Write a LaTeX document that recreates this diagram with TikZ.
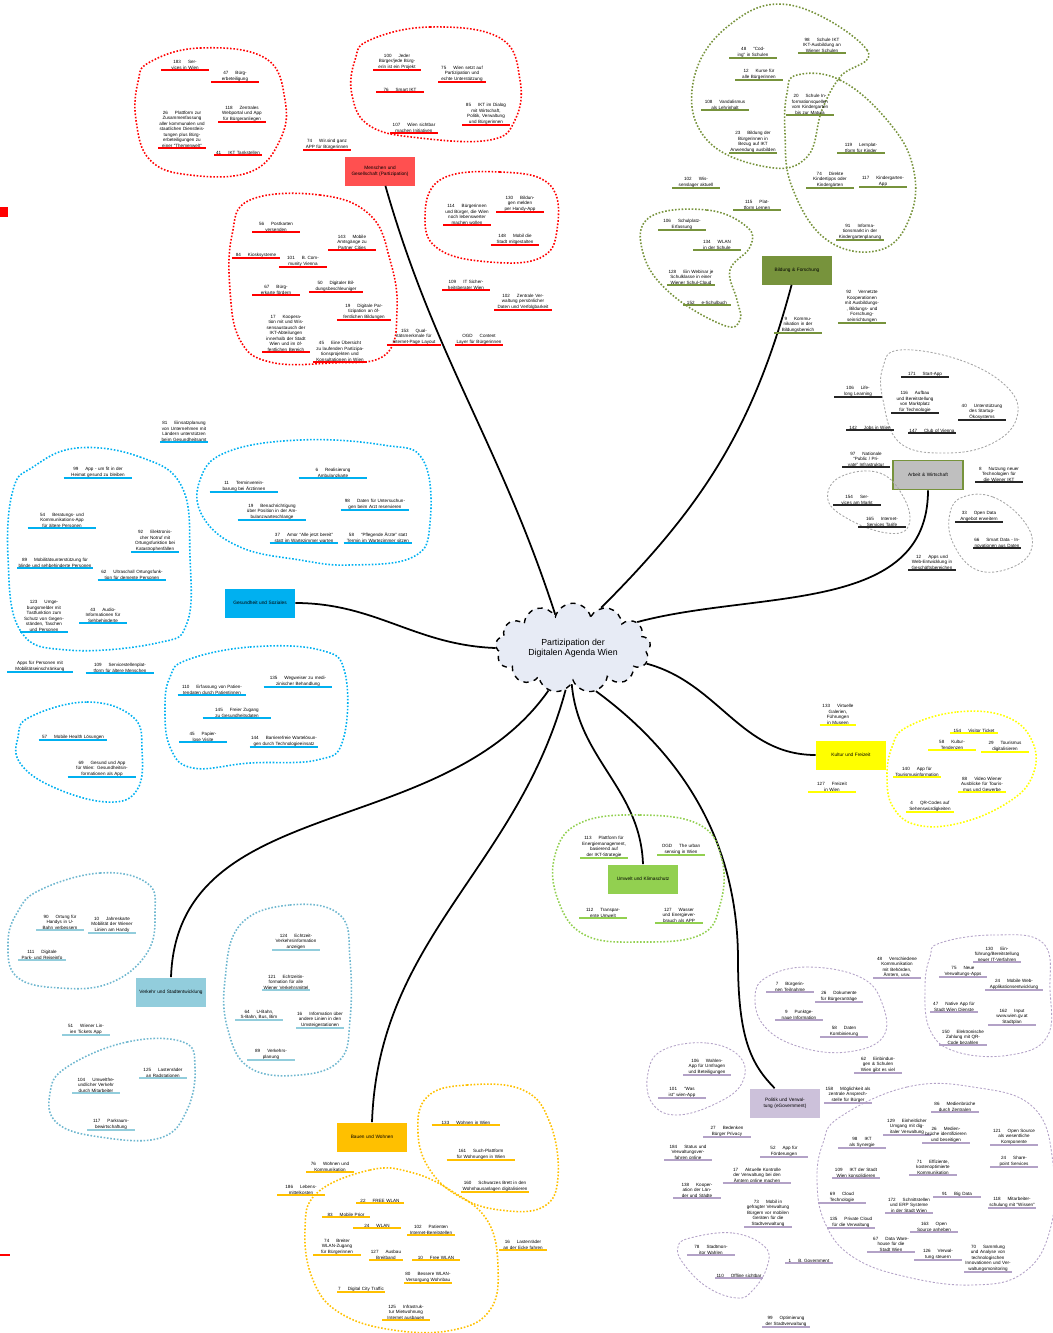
\documentclass[tikz,border=0pt]{standalone}
\usepackage{fontspec}
\setmainfont{Liberation Sans}
\usetikzlibrary{shapes.symbols}

\definecolor{mgred}{HTML}{FF0000}
\definecolor{mgbox}{HTML}{FF5050}
\definecolor{bfgreen}{HTML}{77933C}
\definecolor{awgray}{HTML}{BFBFBF}
\definecolor{awline}{HTML}{262626}
\definecolor{awblob}{HTML}{A6A6A6}
\definecolor{gscyan}{HTML}{00B0F0}
\definecolor{kfyellow}{HTML}{FFFF00}
\definecolor{ukgreen}{HTML}{92D050}
\definecolor{vsblue}{HTML}{92CDDC}
\definecolor{vsblob}{HTML}{6FB7CF}
\definecolor{pvlilac}{HTML}{CCC1DA}
\definecolor{pvline}{HTML}{B3A2C7}
\definecolor{bworange}{HTML}{FFC000}
\definecolor{cloudfill}{HTML}{E7EBF5}

\newcommand{\leaffont}{\fontsize{2.6}{3.1}\selectfont}
\newcommand{\topicfont}{\fontsize{2.7}{3.2}\selectfont}
\newcommand{\nr}[1]{#1\hspace{4pt}}

\tikzset{
  leaf/.style={font=\leaffont, align=center, inner sep=0.3pt, text width=26pt, anchor=south},
  ul/.style={append after command={(\tikzlastnode.south west) edge[draw=#1, line width=1.1pt] (\tikzlastnode.south east)}},
  mgl/.style={leaf, ul=mgred},
  bfl/.style={leaf, ul=bfgreen},
  awl/.style={leaf, ul=awline},
  gsl/.style={leaf, ul=gscyan},
  kfl/.style={leaf, ul=kfyellow},
  ukl/.style={leaf, ul=ukgreen},
  vsl/.style={leaf, ul=vsblue},
  pvl/.style={leaf, ul=pvline},
  bwl/.style={leaf, ul=bworange},
  wide/.style={text width=38pt},
  blob/.style={draw=#1, densely dotted, line width=0.9pt},
  thinblob/.style={draw=#1, dash pattern=on 1.2pt off 1pt, line width=0.5pt},
  topic/.style={font=\topicfont, align=center, minimum width=1.4cm, minimum height=0.58cm, text width=1.3cm, inner sep=1pt},
  link/.style={line width=1pt, black},
}

\begin{document}
\begin{tikzpicture}[x=0.02cm, y=-0.02cm]
\useasboundingbox (0,0) rectangle (1053,1333);

% small marks at the left edge
\fill[mgred] (0,207) rectangle (8,217);
\draw[mgred, line width=0.6pt] (0,1255) -- (10,1255);

% centre
\node[cloud, cloud puffs=13, aspect=1.85, inner sep=0pt, draw, dashed, line width=0.8pt, fill=cloudfill, minimum width=3.1cm, minimum height=1.7cm, font=\fontsize{5}{6}\selectfont, align=center] (agenda) at (573,648) {Partizipation der\\Digitalen Agenda Wien};

% topics
\node[topic, fill=mgbox] (mg) at (380,171) {Menschen und Gesellschaft (Partizipation)};
\node[topic, fill=bfgreen] (bf) at (797,270) {Bildung \& Forschung};
\node[topic, fill=awgray, draw=bfgreen, line width=1pt] (aw) at (928,475) {Arbeit \& Wirtschaft};
\node[topic, fill=gscyan] (gs) at (260,603) {Gesundheit und Soziales};
\node[topic, fill=kfyellow] (kf) at (851,755) {Kultur und Freizeit};
\node[topic, fill=ukgreen] (uk) at (643,879) {Umwelt und Klimaschutz};
\node[topic, fill=vsblue] (vs) at (171,992) {Verkehr und Stadtentwicklung};
\node[topic, fill=pvlilac] (pv) at (785,1103) {Politik und Verwaltung (eGovernment)};
\node[topic, fill=bworange] (bw) at (372,1137) {Bauen und Wohnen};

% links
\draw[link] (mg.290) to[out=-74, in=108] (agenda.118);
\draw[link] (bf.250) to[out=-105, in=45] (agenda.55);
\draw[link] (aw.south) to[out=-90, in=15] (agenda.22);
\draw[link] (gs.east) to[out=0, in=178] (agenda.west);
\draw[link] (agenda.-12) to[out=-15, in=180] (kf.west);
\draw[link] (agenda.-92) to[out=-85, in=92] (uk.north);
\draw[link] (agenda.-62) .. controls (690,760) and (738,850) .. (738,960) .. controls (738,1040) and (752,1065) .. (pv.125);
\draw[link] (agenda.-120) to[out=-125, in=88] (vs.north);
\draw[link] (agenda.-100) to[out=-105, in=88] (bw.north);

% Menschen und Gesellschaft
\draw[blob=mgred] plot[smooth cycle, tension=0.7] coordinates {(150,62) (200,48) (265,58) (285,100) (280,140) (250,172) (190,175) (150,160) (136,120) (138,82)};
\draw[blob=mgred] plot[smooth cycle, tension=0.7] coordinates {(370,40) (430,27) (500,38) (520,80) (515,120) (490,140) (420,138) (370,126) (352,95) (355,60)};
\draw[blob=mgred] plot[smooth cycle, tension=0.7] coordinates {(250,200) (320,195) (370,215) (390,260) (397,310) (385,355) (330,363) (270,362) (240,340) (230,290) (232,235)};
\draw[blob=mgred] plot[smooth cycle, tension=0.7] coordinates {(440,180) (500,172) (550,185) (557,230) (540,258) (490,262) (440,250) (425,220)};
\node[mgl] (m1) at (185,70) {\nr{183}Services in Wien};
\node[mgl] (m2) at (235,82) {\nr{47}Bürgerbeteiligung};
\node[mgl] (m3) at (182,148) {\nr{26}Plattform zur Zusammenfassung aller kommunalen und staatlichen Dienstleistungen plus Bürgerbeteiligungen zu einer ``Themenwelt''};
\node[mgl] (m4) at (242,122) {\nr{118}Zentrales Webportal und App für Bürgeranliegen};
\node[mgl] (m5) at (238,155) {\nr{41}IKT Tankstellen};
\node[mgl] (m6) at (397,70) {\nr{100}Jeder Bürger/jede Bürgerin ist ein Projekt};
\node[mgl] (m7) at (400,92) {\nr{76}Smart IKT};
\node[mgl] (m8) at (414,133) {\nr{107}Wien sichtbar machen Initiativen};
\node[mgl] (m9) at (462,82) {\nr{75}Wien setzt auf Partizipation und echte Unterstützung};
\node[mgl] (m10) at (486,125) {\nr{85}IKT im Dialog mit Wirtschaft, Politik, Verwaltung und Bürgerinnen};
\node[mgl] (m11) at (327,150) {\nr{74}Wir.sind ganz APP für Bürgerinnen};
\node[mgl] (m12) at (276,232) {\nr{56}Postkarten versenden};
\node[mgl] (m13) at (256,258) {\nr{84}Kiosksysteme};
\node[mgl] (m14) at (352,250) {\nr{143}Mobile Amtsgänge zu Partner Cities};
\node[mgl] (m15) at (303,267) {\nr{101}B. Community Vienna};
\node[mgl] (m16) at (276,295) {\nr{67}Bürgerkarte fördern};
\node[mgl, text width=30pt] (m17) at (336,292) {\nr{50}Digitaler Bildungsbeschleuniger};
\node[mgl] (m18) at (286,352) {\nr{17}Kooperation mit und Wissensaustausch der IKT-Abteilungen innerhalb der Stadt Wien und im öffentlichen Bereich};
\node[mgl, text width=30pt] (m19) at (364,320) {\nr{19}Digitale Partizipation an öffentlichen Bildungen};
\node[mgl, text width=30pt] (m20) at (340,362) {\nr{45}Eine Übersicht zu laufenden Partizipationsprojekten und Konsultationen in Wien};
\node[mgl, text width=30pt] (m21) at (414,345) {\nr{153}Qualitätsmerkmale für Internet-Page Layout};
\node[mgl] (m22) at (479,345) {\nr{OGD}Content Layer für Bürgerinnen};
\node[mgl] (m23) at (466,290) {\nr{109}IT Sicherheitsberater Wien};
\node[mgl, text width=32pt] (m24) at (523,310) {\nr{102}Zentrale Verwaltung persönlicher Daten und Verfolgbarkeit};
\node[mgl] (m25) at (467,225) {\nr{114}Bürgerinnen und Bürger, die Wien noch lebenswerter machen wollen};
\node[mgl] (m26) at (520,212) {\nr{130}Bildungen melden per Handy-App};
\node[mgl] (m27) at (515,245) {\nr{148}Mobil die Stadt mitgestalten};

% Bildung & Forschung
\draw[blob=bfgreen] plot[smooth cycle, tension=0.7] coordinates {(790,5) (867,50) (840,77) (822,110) (807,157) (767,167) (707,140) (693,83) (727,27)};
\draw[blob=bfgreen] plot[smooth cycle, tension=0.7] coordinates {(797,75) (840,80) (887,120) (913,167) (910,217) (880,250) (827,240) (792,187) (785,133) (787,93)};
\draw[blob=bfgreen] plot[smooth cycle, tension=0.7] coordinates {(650,217) (707,210) (747,227) (750,247) (730,270) (737,300) (740,320) (723,325) (670,293) (643,253)};
\node[bfl] (b1) at (753,58) {\nr{48}``Coding'' in Schulen};
\node[bfl] (b2) at (822,53) {\nr{98}Schule IKT IKT-Ausbildung an Wiener Schulen};
\node[bfl] (b3) at (759,80) {\nr{12}Kurse für alle Bürgerinnen};
\node[bfl] (b4) at (725,110) {\nr{108}Vandalismus als Lehrinhalt};
\node[bfl] (b5) at (810,115) {\nr{20}Schule Informationsquellen vom Kindergarten bis zur Matura};
\node[bfl] (b6) at (753,153) {\nr{23}Bildung der Bürgerinnen in Bezug auf IKT Anwendung ausbilden};
\node[bfl] (b7) at (861,153) {\nr{119}Lernplattform für Kinder};
\node[bfl] (b8) at (696,188) {\nr{102}Wissenslager aktuell};
\node[bfl] (b9) at (757,210) {\nr{115}Plattform Lernen};
\node[bfl] (b10) at (830,188) {\nr{74}Direkte Kindertipps oder Kindergärten};
\node[bfl] (b11) at (883,187) {\nr{117}Kindergarten-App};
\node[bfl] (b12) at (860,240) {\nr{91}Informationsmarkt in der Kindergartenplanung};
\node[bfl] (b13) at (682,230) {\nr{106}Schulplatz-Erfassung};
\node[bfl] (b14) at (717,250) {\nr{134}WLAN in der Schule};
\node[bfl] (b15) at (691,285) {\nr{128}Ein Webinar je Schulklasse in einer Wiener Schul-Cloud};
\node[bfl] (b16) at (707,305) {\nr{152}e-Schulbuch};
\node[bfl] (b17) at (862,323) {\nr{92}Vernetzte Kooperationen mit Ausbildungs-, Bildungs- und Forschungseinrichtungen};
\node[bfl] (b18) at (798,333) {\nr{9}Kommunikation in der Bildungsbereich};

% Arbeit & Wirtschaft
\draw[thinblob=awblob] plot[smooth cycle, tension=0.7] coordinates {(900,350) (960,360) (1007,387) (1017,417) (993,443) (947,453) (900,443) (883,400) (883,367)};
\draw[thinblob=awblob] plot[smooth cycle, tension=0.7] coordinates {(840,477) (880,473) (905,500) (908,527) (887,533) (850,520) (828,500)};
\draw[thinblob=awblob] plot[smooth cycle, tension=0.7] coordinates {(963,497) (993,497) (1023,520) (1032,547) (1013,567) (977,570) (953,543) (950,513)};
\node[awl] (a1) at (925,377) {\nr{171}Start-App};
\node[awl] (a2) at (858,397) {\nr{106}Lifelong Learning};
\node[awl] (a3) at (915,413) {\nr{116}Aufbau und Bereitstellung von Marktplatz für Technologie};
\node[awl] (a4) at (982,420) {\nr{40}Unterstützung des Startup-Ökosystems};
\node[awl] (a5) at (870,430) {\nr{142}Jobs in Wien};
\node[awl] (a6) at (932,433) {\nr{147}Club of Vienna};
\node[awl] (a7) at (866,467) {\nr{97}Nationale ``Public / Private'' Infrastruktur};
\node[awl] (a8) at (999,482) {\nr{8}Nutzung neuer Technologien für die Wiener IKT};
\node[awl] (a9) at (857,505) {\nr{154}Services am Markt};
\node[awl] (a10) at (882,527) {\nr{165}Internet-Services Tarife};
\node[awl] (a11) at (979,522) {\nr{33}Open Data Angebot erweitern};
\node[awl] (a12) at (997,548) {\nr{66}Smart Data - Innovationen aus Daten};
\node[awl] (a13) at (932,570) {\nr{12}Apps und Web-Entwicklung in Geschäftsbereichen};

% Gesundheit und Soziales
\draw[blob=gscyan] plot[smooth cycle, tension=0.7] coordinates {(77,448) (140,457) (182,487) (190,557) (187,623) (157,643) (67,650) (20,630) (8,557) (13,490) (33,467)};
\draw[blob=gscyan] plot[smooth cycle, tension=0.7] coordinates {(227,452) (300,440) (383,445) (423,460) (430,523) (413,557) (350,565) (300,560) (240,547) (203,517) (200,480)};
\draw[blob=gscyan] plot[smooth cycle, tension=0.7] coordinates {(30,717) (87,702) (133,717) (142,750) (137,790) (107,802) (53,787) (20,763) (18,737)};
\draw[blob=gscyan] plot[smooth cycle, tension=0.7] coordinates {(187,660) (250,647) (320,650) (345,673) (343,740) (317,760) (250,763) (193,768) (170,747) (165,707) (170,677)};
\node[gsl] (g1) at (184,442) {\nr{81}Einsatzplanung von Unternehmen mit Ländern unterstützen beim Gesundheitsamt};
\node[gsl, wide] (g2) at (98,478) {\nr{99}App - um fit in der Heimat gesund zu bleiben};
\node[gsl, wide] (g3) at (333,478) {\nr{6}Realisierung Ambulanzkarte};
\node[gsl, wide] (g4) at (244,492) {\nr{11}Terminvereinbarung bei Ärztinnen};
\node[gsl, wide] (g5) at (62,528) {\nr{54}Beratungs- und Kommunikations-App für ältere Personen};
\node[gsl, wide] (g6) at (375,510) {\nr{98}Daten für Untersuchungen beim Arzt reservieren};
\node[gsl, wide] (g7) at (272,520) {\nr{19}Benachrichtigung über Position in der Ambulanzwarteschlange};
\node[gsl] (g8) at (155,552) {\nr{92}Elektronischer Notruf mit Ortungsfunktion bei Katastrophenfällen};
\node[gsl, wide] (g9) at (304,543) {\nr{37}Amor ``Alle jetzt bereit'' statt im Wartezimmer warten};
\node[gsl, wide] (g10) at (378,543) {\nr{58}``Pflegende Ärzte'' statt Termin im Wartezimmer sitzen};
\node[gsl, text width=42pt] (g11) at (55,568) {\nr{89}Mobilitätsunterstützung für blinde und sehbehinderte Personen};
\node[gsl, wide] (g12) at (132,580) {\nr{62}Ultraschall Ortungsfunktion für demente Personen};
\node[gsl] (g13) at (44,632) {\nr{123}Umgebungsmelder mit Tastfunktion zum Schutz von Gegenständen, Taschen und Personen};
\node[gsl] (g14) at (103,623) {\nr{43}Audio-Informationen für Sehbehinderte};
\node[gsl, text width=36pt] (g15) at (40,672) {Apps für Personen mit Mobilitätseinschränkung};
\node[gsl, wide] (g16) at (120,673) {\nr{109}Servicestellenplattform für ältere Menschen};
\node[gsl, wide] (g17) at (212,695) {\nr{110}Erfassung von Patientendaten durch Patientinnen};
\node[gsl, wide] (g18) at (298,687) {\nr{135}Wegweiser zu medizinischer Behandlung};
\node[gsl, wide] (g19) at (237,718) {\nr{145}Freier Zugang zu Gesundheitsdaten};
\node[gsl, wide] (g20) at (73,740) {\nr{57}Mobile Health Lösungen};
\node[gsl] (g21) at (203,742) {\nr{45}Papierlose Visite};
\node[gsl, wide] (g22) at (284,747) {\nr{144}Barrierefreie Wartelösungen durch Technologieeinsatz};
\node[gsl, wide] (g23) at (102,777) {\nr{69}Gesund und App für Wien: Gesundheitsinformationen als App};

% Kultur und Freizeit
\draw[blob=kfyellow] plot[smooth cycle, tension=0.7] coordinates {(907,727) (957,712) (1007,717) (1033,743) (1032,777) (1007,803) (960,823) (917,825) (893,807) (887,777) (892,747)};
\node[kfl, text width=20pt] (k1) at (838,725) {\nr{133}Virtuelle Galerien, Führungen in Museen};
\node[kfl] (k2) at (832,792) {\nr{127}Freizeit in Wien};
\node[kfl] (k3) at (974,733) {\nr{154}Visitor Ticket};
\node[kfl] (k4) at (952,750) {\nr{58}Kultur-Tendenzen};
\node[kfl] (k5) at (1005,752) {\nr{29}Tourismus digitalisieren};
\node[kfl] (k6) at (917,777) {\nr{140}App für Tourismusinformation};
\node[kfl] (k7) at (982,792) {\nr{88}Video Wiener Ausblicke für Tourismus und Gewerbe};
\node[kfl] (k8) at (930,812) {\nr{4}QR-Codes auf Sehenswürdigkeiten};

% Umwelt und Klimaschutz
\draw[blob=ukgreen] plot[smooth cycle, tension=0.7] coordinates {(580,823) (640,815) (700,825) (722,860) (720,905) (700,935) (640,942) (585,935) (558,900) (555,855)};
\node[ukl] (u1) at (604,858) {\nr{113}Plattform für Energiemanagement, basierend auf der IKT-Strategie};
\node[ukl] (u2) at (681,855) {\nr{OGD}The urban sensing in Wien};
\node[ukl] (u3) at (603,918) {\nr{112}Transparente Umwelt};
\node[ukl] (u4) at (679,923) {\nr{127}Wasser und Energieverbrauch als APP};

% Verkehr und Stadtentwicklung
\draw[blob=vsblob] plot[smooth cycle, tension=0.7] coordinates {(40,890) (100,873) (147,883) (155,913) (147,953) (110,983) (60,988) (17,977) (8,943) (17,913)};
\draw[blob=vsblob] plot[smooth cycle, tension=0.7] coordinates {(240,925) (290,905) (340,915) (350,960) (350,1020) (340,1060) (300,1075) (250,1068) (228,1030) (225,980)};
\draw[blob=vsblob] plot[smooth cycle, tension=0.7] coordinates {(67,1067) (127,1042) (183,1042) (195,1067) (187,1110) (160,1138) (100,1137) (57,1123) (50,1093)};
\node[vsl] (v1) at (60,930) {\nr{90}Ortung für Handys in U-Bahn verbessern};
\node[vsl] (v2) at (112,933) {\nr{10}Jahreskarte Mobilität der Wiener Linien am Handy};
\node[vsl] (v3) at (42,960) {\nr{111}Digitale Park- und Reiseinfo};
\node[vsl] (v4) at (86,1035) {\nr{51}Wiener Linien Tickets App};
\node[vsl] (v5) at (296,950) {\nr{124}Echtzeit-Verkehrsinformation anzeigen};
\node[vsl] (v6) at (286,990) {\nr{121}Echtzeitinformation für alle Wiener Verkehrsmittel};
\node[vsl] (v7) at (259,1020) {\nr{64}U-Bahn, S-Bahn, Bus, Bim};
\node[vsl] (v8) at (320,1028) {\nr{16}Information über andere Linien in den Umsteigestationen};
\node[vsl] (v9) at (271,1060) {\nr{89}Verkehrsplanung};
\node[vsl] (v10) at (96,1093) {\nr{104}Umweltfreundlicher Verkehr durch Mitarbeiter};
\node[vsl] (v11) at (163,1078) {\nr{125}Lastenräder an Radstationen};
\node[vsl] (v12) at (111,1130) {\nr{117}Parkraumbewirtschaftung};

% Politik und Verwaltung
\draw[thinblob=pvline] plot[smooth cycle, tension=0.7] coordinates {(767,977) (807,967) (860,977) (882,1003) (883,1037) (847,1052) (800,1047) (765,1027) (755,997)};
\draw[thinblob=pvline] plot[smooth cycle, tension=0.7] coordinates {(940,943) (993,935) (1043,943) (1050,990) (1047,1037) (1010,1055) (957,1052) (930,1030) (925,987) (930,957)};
\draw[thinblob=pvline] plot[smooth cycle, tension=0.7] coordinates {(663,1050) (707,1043) (740,1057) (742,1083) (717,1103) (677,1115) (652,1103) (648,1073)};
\draw[thinblob=pvline] plot[smooth cycle, tension=0.7] coordinates {(840,1117) (907,1087) (973,1087) (1033,1107) (1053,1163) (1050,1230) (1023,1273) (973,1285) (907,1277) (853,1257) (825,1223) (817,1180) (823,1143)};
\draw[thinblob=pvline] plot[smooth cycle, tension=0.7] coordinates {(690,1238) (733,1233) (765,1247) (767,1267) (753,1290) (737,1298) (707,1287) (683,1263) (678,1247)};
\node[pvl] (p1) at (897,978) {\nr{48}Verschiedene Kommunikation mit Behörden, Ämtern, usw.};
\node[pvl] (p2) at (997,962) {\nr{130}Einführung/Bereitstellung neuer IT-Verfahren};
\node[pvl] (p3) at (963,977) {\nr{75}Neue Verwaltungs-Apps};
\node[pvl, text width=32pt] (p4) at (1014,990) {\nr{24}Mobile Web-Applikationsentwicklung};
\node[pvl] (p5) at (954,1012) {\nr{47}Native App für Stadt Wien Dienste};
\node[pvl] (p6) at (1012,1025) {\nr{162}Input www.wien.gv.at Stadtplan};
\node[pvl] (p7) at (963,1045) {\nr{150}Elektronische Zahlung mit QR-Code bezahlen};
\node[pvl] (p8) at (790,992) {\nr{7}Bürgerinnen Teilnahme};
\node[pvl] (p9) at (839,1002) {\nr{26}Dokumente für Bürgeranträge};
\node[pvl] (p10) at (799,1020) {\nr{9}Punktgenaue Information};
\node[pvl] (p11) at (844,1037) {\nr{58}Daten Kombinierung};
\node[pvl] (p12) at (878,1073) {\nr{62}Einbindungen \& Schulen Wien gibt es viel};
\node[pvl] (p13) at (707,1075) {\nr{106}Wahlen-App für Umfragen und Beteiligungen};
\node[pvl] (p14) at (682,1098) {\nr{101}``Was ist'' wien-App};
\node[pvl] (p15) at (848,1103) {\nr{158}Möglichkeit als zentrale Ansprechstelle für Bürger};
\node[pvl] (p16) at (727,1137) {\nr{27}Bedenken Bürger Privacy};
\node[pvl] (p17) at (688,1160) {\nr{184}Status und Verwaltungsverfahren online};
\node[pvl] (p18) at (784,1157) {\nr{52}App für Förderungen};
\node[pvl, wide] (p19) at (757,1183) {\nr{17}Aktuelle Kontrolle der Verwaltung bei den Ämtern online machen};
\node[pvl] (p20) at (697,1198) {\nr{138}Kooperation der Länder und Städte};
\node[pvl] (p21) at (768,1227) {\nr{73}Mobil in gefragter Verwaltung Bürgern vor mobilen Geräten für die Stadtverwaltung};
\node[pvl] (p22) at (809,1263) {\nr{1}B. Government};
\node[pvl] (p23) at (786,1327) {\nr{99}Optimierung der Stadtverwaltung};
\node[pvl] (p24) at (711,1255) {\nr{78}Stadtmonitor Wahlen};
\node[pvl] (p25) at (739,1278) {\nr{110}Offline sichtbar};
\node[pvl] (p26) at (955,1112) {\nr{86}Medienbrüche durch Zentralen};
\node[pvl] (p27) at (907,1135) {\nr{129}Einheitlicher Umgang mit digitaler Verwaltung};
\node[pvl] (p28) at (946,1143) {\nr{26}Medienbrüche identifizieren und beseitigen};
\node[pvl] (p29) at (1014,1145) {\nr{121}Open Source als wesentliche Komponente};
\node[pvl] (p30) at (862,1148) {\nr{98}IKT als Synergie};
\node[pvl] (p31) at (933,1175) {\nr{71}Effiziente, kostenoptimierte Kommunikation};
\node[pvl] (p32) at (1014,1167) {\nr{24}Sharepoint Services};
\node[pvl] (p33) at (856,1178) {\nr{109}IKT der Stadt Wien konsolidieren};
\node[pvl] (p34) at (909,1213) {\nr{172}Schnittstellen und ERP Systeme in der Stadt Wien};
\node[pvl] (p35) at (957,1197) {\nr{91}Big Data};
\node[pvl] (p36) at (842,1203) {\nr{69}Cloud Technologie};
\node[pvl] (p37) at (1012,1208) {\nr{118}Mitarbeiterschulung mit ``Wissen''};
\node[pvl] (p38) at (851,1228) {\nr{135}Private Cloud für die Verwaltung};
\node[pvl] (p39) at (934,1232) {\nr{163}Open Source anheben};
\node[pvl] (p40) at (891,1252) {\nr{67}Data Warehouse für die Stadt Wien};
\node[pvl] (p41) at (938,1260) {\nr{126}Verwaltung steuern};
\node[pvl] (p42) at (988,1272) {\nr{70}Sammlung und Analyse von technologischen Innovationen und Verwaltungsmonitoring};

% Bauen und Wohnen
\draw[blob=bworange] plot[smooth cycle, tension=0.7] coordinates {(427,1097) (467,1085) (523,1090) (550,1123) (558,1177) (543,1207) (500,1210) (460,1197) (430,1170) (418,1133)};
\draw[blob=bworange] plot[smooth cycle, tension=0.7] coordinates {(317,1193) (370,1170) (410,1172) (450,1190) (487,1220) (498,1267) (490,1310) (453,1330) (393,1330) (340,1313) (313,1280) (305,1230)};
\node[bwl, wide] (w1) at (466,1125) {\nr{133}Wohnen in Wien};
\node[bwl, wide] (w2) at (481,1160) {\nr{161}Such-Plattform für Wohnungen in Wien};
\node[bwl, wide] (w3) at (495,1192) {\nr{160}Schwarzes Brett in den Wohnhausanlagen digitalisieren};
\node[bwl] (w4) at (330,1172) {\nr{76}Wohnen und Kommunikation};
\node[bwl] (w5) at (301,1195) {\nr{186}Lebensmittelkosten};
\node[bwl] (w6) at (380,1203) {\nr{22}FREE WLAN};
\node[bwl] (w7) at (346,1217) {\nr{83}Mobile Prior};
\node[bwl] (w8) at (377,1228) {\nr{24}WLAN};
\node[bwl] (w9) at (431,1235) {\nr{102}Patienten Internet-Bereitstellen};
\node[bwl] (w10) at (523,1250) {\nr{16}Lastenräder an der Ecke fahren};
\node[bwl] (w11) at (337,1255) {\nr{74}Breiter WLAN-Zugang für Bürgerinnen};
\node[bwl, text width=18pt] (w12) at (386,1260) {\nr{127}Ausbau Breitband};
\node[bwl] (w13) at (436,1260) {\nr{10}Free WLAN};
\node[bwl] (w14) at (428,1283) {\nr{80}Bessere WLAN-Versorgung Wohnbau};
\node[bwl] (w15) at (361,1292) {\nr{7}Digital City Traffic};
\node[bwl] (w16) at (406,1320) {\nr{125}Infrastruktur Mietwohnung Internet ausbauen};

\end{tikzpicture}
\end{document}
